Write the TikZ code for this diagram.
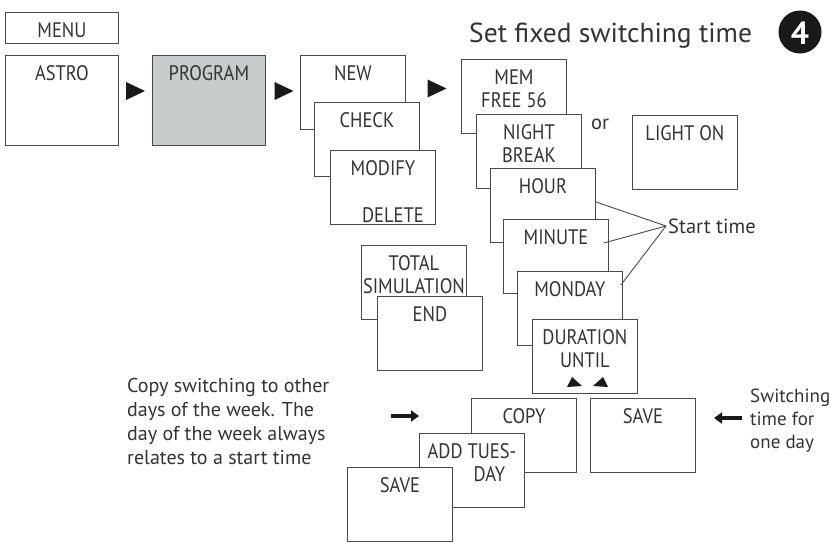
\documentclass[tikz,border=0pt]{standalone}
\usepackage{fontspec}
\setmainfont{PT Sans}
\newfontfamily\boxfont{PT Sans}[FakeStretch=0.88]
\usetikzlibrary{calc, arrows.meta}
\definecolor{framecol}{HTML}{4A4A4A}
\definecolor{txtcol}{HTML}{333333}
\definecolor{panelgray}{HTML}{C9CCCD}
\tikzset{
    box/.style={draw=framecol, fill=white, line width=0.9pt, anchor=north west,
        minimum width=105pt, minimum height=74pt, inner sep=0pt},
    bigbox/.style={box, minimum width=113pt, minimum height=90pt},
    lbl/.style={anchor=north, yshift=-10.6pt, inner sep=0pt, align=center, text=txtcol,
        font=\boxfont\fontsize{21}{22.5}\selectfont},
    note/.style={anchor=north west, inner sep=0pt, align=left, text=txtcol,
        font=\fontsize{20}{24}\selectfont},
    fatarrow/.style={line width=4pt, -{Triangle[length=8pt,width=11pt]}, draw=black!90}
}
\begin{document}
\begin{tikzpicture}[x=1pt, y=-1pt, font=\fontsize{20.5}{22.5}\selectfont]
\def\playtri#1{\fill[black!90] ($(#1)+(-9.5,-9)$) -- ++(19,9) -- ++(-19,9) -- cycle;}
\useasboundingbox (0,0) rectangle (833,544);

% title
\node[anchor=base west, inner sep=0pt, text=txtcol, font=\fontsize{27.5}{30}\selectfont] (title) at (469,42) {Set fixed switching time};
\fill[black!90] (800,32) circle (21.5);
\node[text=white, font=\fontsize{32}{32}\bfseries] (step4) at (800,33) {4};

% first row
\node[box, minimum width=113pt, minimum height=31pt, label={[lbl]north:MENU}] (menu) at (5,12) {};
\node[bigbox, label={[lbl]north:ASTRO}] (astro) at (5,55) {};
\node[bigbox, fill=panelgray, label={[lbl]north:PROGRAM}] (program) at (152,55) {};
\node[box, label={[lbl]north:NEW}] (new) at (300,55) {};
\node[box, label={[lbl]north:CHECK}] (check) at (314,102) {};
\node[box, label={[lbl]north:MODIFY},
    label={[lbl, anchor=south east, xshift=-12pt, yshift=13.1pt]south east:DELETE}] (modify) at (330,150) {};

\coordinate (tri1) at (135.5,91);
\coordinate (tri2) at (284,91);
\coordinate (tri3) at (437,88.5);
\playtri{tri1}
\playtri{tri2}
\playtri{tri3}

% new program stack
\node[box, label={[lbl]north:MEM\\FREE 56}] (mem) at (461,59) {};
\node[box, label={[lbl]north:NIGHT\\BREAK}] (night) at (476,114) {};
\node[box, label={[lbl]north:HOUR}] (hour) at (490,168) {};
\node[box, label={[lbl]north:MINUTE}] (minute) at (503,219) {};
\node[box, label={[lbl]north:MONDAY}] (monday) at (517,271) {};
\node[box, label={[lbl]north:DURATION\\UNTIL}] (duration) at (532,319) {};
\fill[black!90] (572,377) -- (582,386) -- (567,387) -- cycle;
\fill[black!90] (603,377) -- (608,387) -- (593,386) -- cycle;

\node[text=txtcol] (or) at (600,124) {or};
\node[box, label={[lbl]north:LIGHT ON}] (light) at (632,115) {};

% start time
\node[anchor=west, inner sep=2pt, text=txtcol] (start) at (666,226) {Start time};
\draw[framecol, line width=0.9pt] ([yshift=3.5pt]hour.east) -- (start.west);
\draw[framecol, line width=0.9pt] ([xshift=-5pt,yshift=13.5pt]minute.east) -- (start.west);
\draw[framecol, line width=0.9pt] ([xshift=-2pt,yshift=23.5pt]monday.east) -- (start.west);

\node[box, label={[lbl]north:TOTAL\\SIMULATION}] (total) at (361,245) {};
\node[box, label={[lbl]north:END}] (endbox) at (377,296) {};

% copy / save
\node[box, label={[lbl]north:COPY}] (copy) at (471,398) {};
\node[box, label={[lbl]north:SAVE}] (saveday) at (590,398) {};
\node[box, label={[lbl]north:ADD TUES-}, label={[lbl, xshift=17.5pt, yshift=-23pt]north:DAY}] (addday) at (419,433) {};
\node[box, label={[lbl]north:SAVE}] (savecopy) at (347,467) {};

\node[note] (copynote) at (127,378) {Copy switching to other\\days of the week. The\\day of the week always\\relates to a start time};
\node[note, font=\fontsize{19}{23}\selectfont] (savenote) at (750,389) {Switching\\time for\\one day};

\coordinate (copyfrom) at (391,416);
\coordinate (copyto) at (419,416);
\coordinate (savefrom) at (742,418);
\coordinate (saveto) at (714,418);
\draw[fatarrow] (copyfrom) -- (copyto);
\draw[fatarrow] (savefrom) -- (saveto);
\end{tikzpicture}
\end{document}
